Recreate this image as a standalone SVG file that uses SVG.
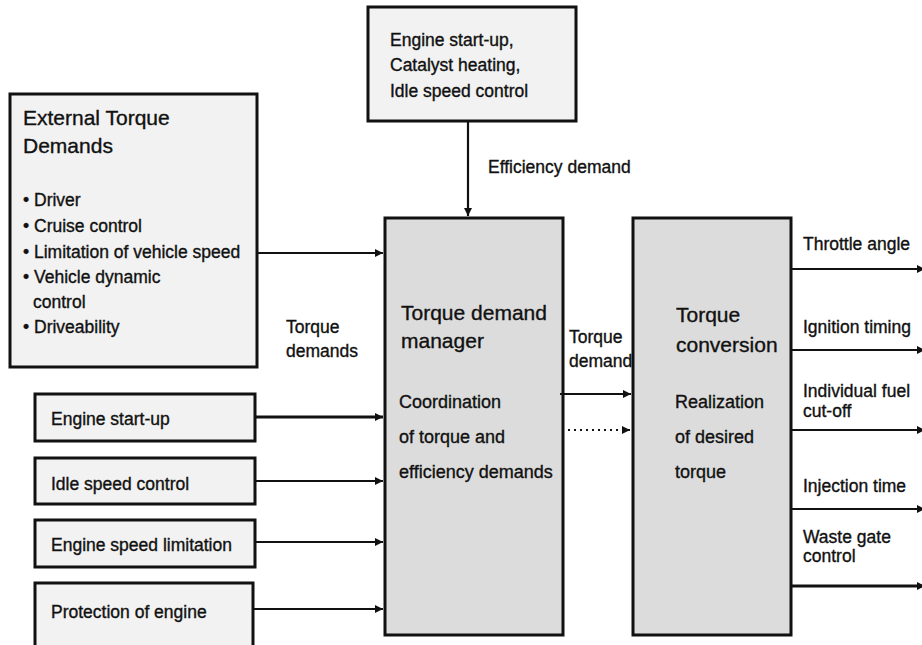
<svg xmlns="http://www.w3.org/2000/svg" width="922" height="645" viewBox="0 0 922 645">
  <defs>
    <marker id="arrow" viewBox="0 0 10 10" refX="10" refY="5" markerWidth="10" markerHeight="8" markerUnits="userSpaceOnUse" orient="auto">
      <path d="M0,0 L10,5 L0,10 z" fill="#111"/>
    </marker>
    <style>
      text { font-family: "Liberation Sans", Arial, sans-serif; fill: #111; stroke: #111; stroke-width: 0.35; }
      .box { fill: #f2f2f2; stroke: #111; stroke-width: 3; }
      .core { fill: #dcdcdc; stroke: #111; stroke-width: 3; }
      .line { stroke: #111; stroke-width: 2.2; fill: none; marker-end: url(#arrow); }
      .thick { stroke-width: 3; }
      .dots { stroke: #111; stroke-width: 2.2; fill: none; stroke-dasharray: 2 4; marker-end: url(#arrow); }
      .t17 { font-size: 17.5px; }
      .t18 { font-size: 18px; }
      .t21 { font-size: 21px; }
    </style>
  </defs>
  <rect width="922" height="645" fill="#fff"/>

  <!-- source blocks -->
  <g id="external-demands">
    <rect class="box" x="10" y="94" width="247" height="273"/>
    <text class="t21" x="23" y="125">External Torque</text>
    <text class="t21" x="23" y="153">Demands</text>
    <text class="t17" x="23" y="206">• Driver</text>
    <text class="t17" x="23" y="232">• Cruise control</text>
    <text class="t17" x="23" y="258">• Limitation of vehicle speed</text>
    <text class="t17" x="23" y="283">• Vehicle dynamic</text>
    <text class="t17" x="33" y="308">control</text>
    <text class="t17" x="23" y="333">• Driveability</text>
  </g>

  <g id="efficiency-sources">
    <rect class="box" x="368" y="7" width="208" height="114"/>
    <text class="t17" x="390" y="46">Engine start-up,</text>
    <text class="t17" x="390" y="71">Catalyst heating,</text>
    <text class="t17" x="390" y="97">Idle speed control</text>
  </g>

  <g id="engine-start-up">
    <rect class="box" x="35" y="394" width="220" height="47"/>
    <text class="t17" x="51" y="425">Engine start-up</text>
  </g>
  <g id="idle-speed-control">
    <rect class="box" x="35" y="458" width="220" height="46"/>
    <text class="t17" x="51" y="490">Idle speed control</text>
  </g>
  <g id="engine-speed-limitation">
    <rect class="box" x="35" y="520" width="220" height="47"/>
    <text class="t17" x="51" y="551">Engine speed limitation</text>
  </g>
  <g id="protection-of-engine">
    <rect class="box" x="35" y="583" width="218" height="70"/>
    <text class="t17" x="51" y="618">Protection of engine</text>
  </g>

  <!-- processing blocks -->
  <g id="torque-demand-manager">
    <rect class="core" x="385" y="218" width="178" height="417"/>
    <text class="t21" x="401" y="320">Torque demand</text>
    <text class="t21" x="401" y="348">manager</text>
    <text class="t18" x="399" y="408">Coordination</text>
    <text class="t18" x="399" y="443">of torque and</text>
    <text class="t18" x="399" y="478">efficiency demands</text>
  </g>

  <g id="torque-conversion">
    <rect class="core" x="633" y="218" width="158" height="417"/>
    <text class="t21" x="676" y="322">Torque</text>
    <text class="t21" x="676" y="352">conversion</text>
    <text class="t18" x="675" y="408">Realization</text>
    <text class="t18" x="675" y="443">of desired</text>
    <text class="t18" x="675" y="478">torque</text>
  </g>

  <!-- connectors -->
  <g id="connectors">
    <line class="line" x1="468" y1="121" x2="468" y2="216"/>
    <line class="line" x1="257" y1="253" x2="383" y2="253"/>
    <line class="line thick" x1="255" y1="417" x2="383" y2="417"/>
    <line class="line" x1="255" y1="481" x2="383" y2="481"/>
    <line class="line" x1="255" y1="542" x2="383" y2="542"/>
    <line class="line" x1="253" y1="609" x2="383" y2="609"/>
    <line class="line" x1="560" y1="394" x2="631" y2="394"/>
    <line class="dots" x1="568" y1="430" x2="630" y2="430"/>
    <line class="line" x1="791" y1="269" x2="925" y2="269"/>
    <line class="line" x1="791" y1="350" x2="925" y2="350"/>
    <line class="line" x1="791" y1="430" x2="925" y2="430"/>
    <line class="line" x1="791" y1="509" x2="925" y2="509"/>
    <line class="line thick" x1="791" y1="586" x2="925" y2="586"/>
  </g>

  <!-- connector labels -->
  <g id="labels">
    <text class="t17" x="488" y="173">Efficiency demand</text>
    <text class="t17" x="286" y="333">Torque</text>
    <text class="t17" x="286" y="357">demands</text>
    <text class="t17" x="569" y="343">Torque</text>
    <text class="t17" x="569" y="367">demand</text>
    <text class="t17" x="803" y="250">Throttle angle</text>
    <text class="t17" x="803" y="333">Ignition timing</text>
    <text class="t17" x="803" y="397">Individual fuel</text>
    <text class="t17" x="803" y="417">cut-off</text>
    <text class="t17" x="803" y="492">Injection time</text>
    <text class="t17" x="803" y="543">Waste gate</text>
    <text class="t17" x="803" y="562">control</text>
  </g>
</svg>
